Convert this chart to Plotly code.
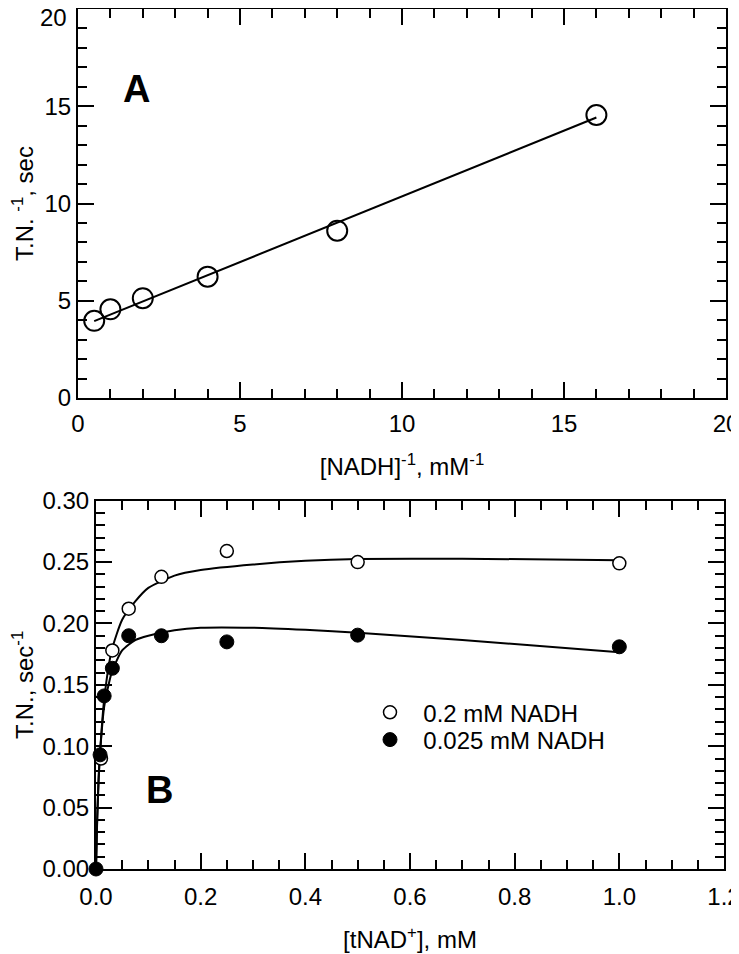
import plotly.graph_objects as go

# Panel A: double-reciprocal plot
a_x = [0.5, 1, 2, 4, 8, 16]
a_y = [3.97, 4.56, 5.13, 6.24, 8.6, 14.55]
a_fit_x = [0.5, 16]
a_fit_y = [3.95, 14.42]
a_yticks = [0, 5, 10, 15, 20]
a_yticktext = ["0", "5", "10", "15", ""]
a_top_label = "20"

# Panel B: saturation curves
b_open_x = [0.0095, 0.03125, 0.0625, 0.125, 0.25, 0.5, 1.0]
b_open_y = [0.090, 0.178, 0.212, 0.238, 0.259, 0.250, 0.249]
b_filled_x = [0, 0.0078, 0.0156, 0.03125, 0.0625, 0.125, 0.25, 0.5, 1.0]
b_filled_y = [0, 0.093, 0.141, 0.1635, 0.190, 0.190, 0.185, 0.1905, 0.181]

# fitted curves
open_fit_x = [0, 0.002, 0.005, 0.0078, 0.0156, 0.03, 0.05, 0.075, 0.1, 0.15, 0.2, 0.3, 0.4, 0.5, 0.7, 1.0]
open_fit_y = [0, 0.035, 0.072, 0.095, 0.138, 0.178, 0.203, 0.218, 0.229, 0.239, 0.2435, 0.248, 0.251, 0.2525, 0.2528, 0.2515]
filled_fit_x = [0, 0.002, 0.005, 0.0078, 0.0156, 0.03, 0.05, 0.075, 0.1, 0.15, 0.2, 0.3, 0.4, 0.5, 0.7, 1.0]
filled_fit_y = [0, 0.038, 0.075, 0.095, 0.132, 0.160, 0.178, 0.1865, 0.190, 0.1945, 0.1965, 0.1965, 0.1948, 0.1925, 0.1865, 0.1765]

legend_names = ["0.2 mM NADH", "0.025 mM NADH"]

FONT = "Liberation Sans, Arial, sans-serif"
TICKFONT = dict(family=FONT, size=24, color="black")

# The page body has an 8px default margin, so the figure is sized to fit the window.
W, H = 731, 946
OFF = 8
def px_x(p):
    return p - OFF
def px_y(p):
    return p - OFF

L, R, T, B = px_x(78), W - px_x(726), px_y(9), H - px_y(869)
PW, PH = W - L - R, H - T - B

def fx(p):
    return (px_x(p) - L) / PW
def fy(p):
    return (H - B - px_y(p)) / PH

fig = go.Figure()

fig.add_trace(go.Scatter(x=a_fit_x, y=a_fit_y, mode="lines", line=dict(color="black", width=2),
                         showlegend=False, xaxis="x", yaxis="y"))
fig.add_trace(go.Scatter(x=a_x, y=a_y, mode="markers",
                         marker=dict(symbol="circle-open", size=20, color="black", line=dict(width=2)),
                         showlegend=False, xaxis="x", yaxis="y"))

fig.add_trace(go.Scatter(x=open_fit_x, y=open_fit_y, mode="lines",
                         line=dict(color="black", width=2, shape="spline", smoothing=0.6),
                         showlegend=False, xaxis="x2", yaxis="y2", cliponaxis=False))
fig.add_trace(go.Scatter(x=filled_fit_x, y=filled_fit_y, mode="lines",
                         line=dict(color="black", width=2, shape="spline", smoothing=0.6),
                         showlegend=False, xaxis="x2", yaxis="y2", cliponaxis=False))
fig.add_trace(go.Scatter(x=b_open_x, y=b_open_y, mode="markers", name="&nbsp;&nbsp;" + legend_names[0],
                         marker=dict(symbol="circle", size=13, color="white", line=dict(width=1.5, color="black")),
                         xaxis="x2", yaxis="y2", cliponaxis=False, legend="legend"))
fig.add_trace(go.Scatter(x=b_filled_x, y=b_filled_y, mode="markers", name="&nbsp;&nbsp;" + legend_names[1],
                         marker=dict(symbol="circle", size=14, color="black", line=dict(width=1, color="black")),
                         xaxis="x2", yaxis="y2", cliponaxis=False, legend="legend2"))

MINC = "black"
major = dict(showline=True, linewidth=2, linecolor="black", mirror="allticks",
             ticks="inside", ticklen=16, tickwidth=2, tickcolor="black",
             showgrid=False, zeroline=False, automargin=False, tickfont=TICKFONT,
             ticklabeloverflow="allow")

titlefont = dict(family=FONT, size=24, color="black")

fig.update_layout(
    width=W, height=H,
    margin=dict(l=L, r=R, t=T, b=B, pad=0),
    plot_bgcolor="white", paper_bgcolor="white",
    font=dict(family=FONT, color="black"),
    xaxis=dict(domain=[0, 1], range=[0, 20], dtick=5, anchor="y", ticklabelstandoff=3,
               minor=dict(dtick=1, ticklen=9, tickwidth=2, ticks="inside", tickcolor=MINC),
               title=dict(text="[NADH]<sup>-1</sup>, mM<sup>-1</sup>", font=titlefont, standoff=22),
               **major),
    yaxis=dict(domain=[fy(398), 1], range=[0, 20], tickmode="array", tickvals=a_yticks, ticktext=a_yticktext,
               anchor="x",
               minor=dict(dtick=1, ticklen=9, tickwidth=2, ticks="inside", tickcolor=MINC),
               title=dict(text="T.N. <sup>-1</sup>, sec", font=titlefont, standoff=10),
               **major),
    xaxis2=dict(domain=[fx(96), fx(724)], range=[0, 1.2], dtick=0.2, tickformat=".1f", anchor="y2",
                ticklabelstandoff=5,
                minor=dict(dtick=0.05, ticklen=9, tickwidth=2, ticks="inside", tickcolor=MINC),
                title=dict(text="[tNAD<sup>+</sup>], mM", font=titlefont, standoff=22),
                **major),
    yaxis2=dict(domain=[0, fy(500.7)], range=[0, 0.3], dtick=0.05, tickformat=".2f", anchor="x2",
                minor=dict(dtick=0.01, ticklen=9, tickwidth=2, ticks="inside", tickcolor=MINC),
                title=dict(text="T.N., sec<sup>-1</sup>", font=titlefont, standoff=6),
                **major),
    legend=dict(x=fx(370), y=fy(712.7), xanchor="left", yanchor="middle",
                font=dict(size=24, family=FONT), bgcolor="rgba(0,0,0,0)"),
    legend2=dict(x=fx(370), y=fy(740), xanchor="left", yanchor="middle",
                 font=dict(size=24, family=FONT), bgcolor="rgba(0,0,0,0)"),
    annotations=[
        dict(text="<b>A</b>", x=1.82, y=15.9, xref="x", yref="y", showarrow=False,
             font=dict(size=38, family=FONT, color="black")),
        dict(text="<b>B</b>", x=0.122, y=0.064, xref="x2", yref="y2", showarrow=False,
             font=dict(size=38, family=FONT, color="black")),
        dict(text=a_top_label, x=fx(69), y=1, xref="paper", yref="paper", xanchor="right", yanchor="middle",
             yshift=-8, showarrow=False, font=TICKFONT),
    ],
)

fig.write_html("out.html")
